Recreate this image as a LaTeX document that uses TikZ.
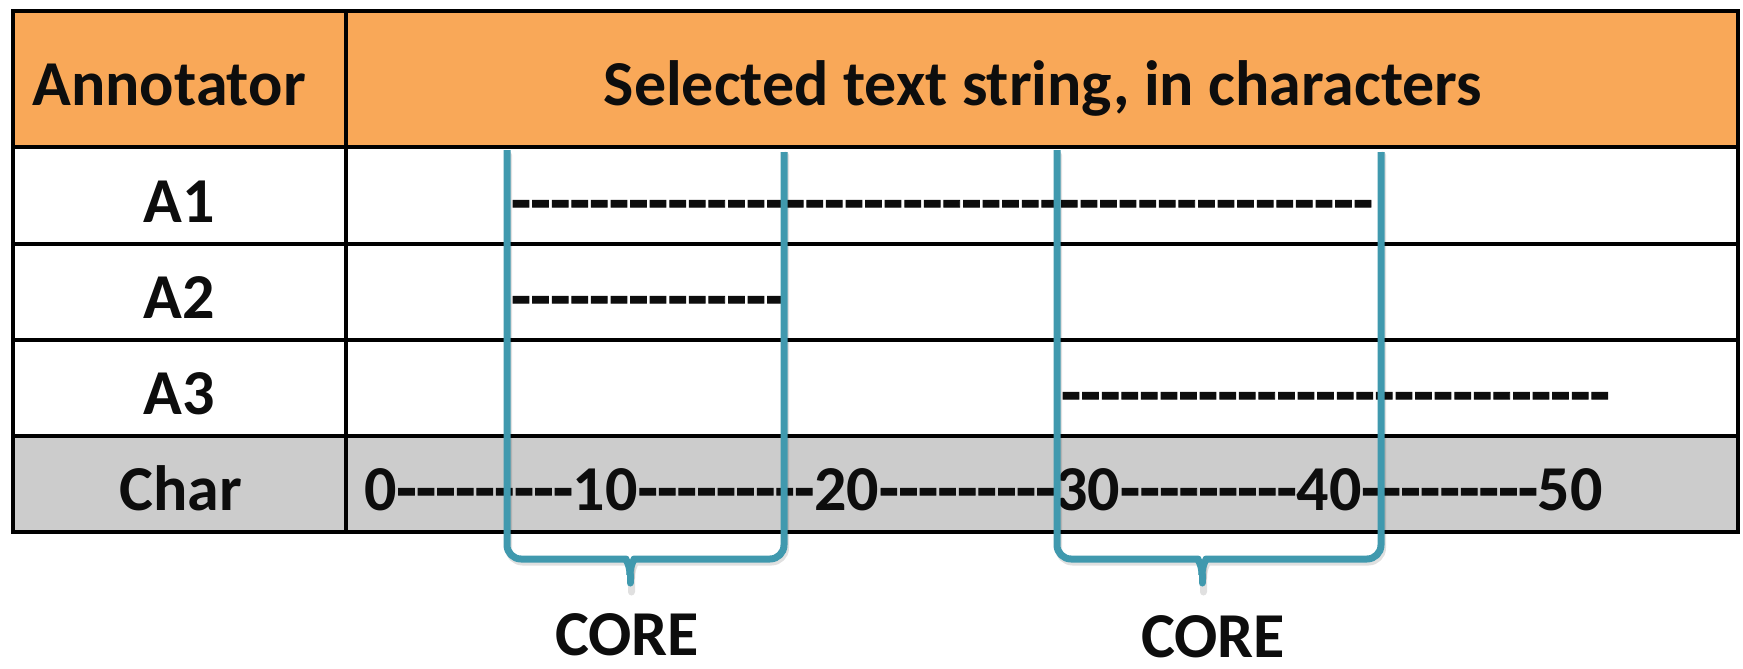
\documentclass[tikz,border=0pt]{standalone}
\usepackage{fontspec}
\setmainfont{Carlito}[Ligatures=TeXOff]
\newfontfamily\hyfont{Carlito}[Ligatures=TeXOff, UprightFeatures={FakeBold=1.5}, BoldFeatures={FakeBold=1.5}]
\newcommand{\hys}[1]{{\hyfont\bfseries #1}}
\definecolor{hdr}{RGB}{249,168,88}
\definecolor{charrow}{RGB}{204,204,204}
\definecolor{coreblue}{RGB}{64,153,174}
\tikzset{
  lbl/.style={inner sep=0pt, font=\fontsize{64}{64}\selectfont\bfseries, text=black!95},
  grid/.style={line width=3.5pt, black},
  core/.style={line width=7pt, coreblue, line cap=round, line join=round},
  coreshadow/.style={line width=7pt, black, opacity=0.12, line cap=round, line join=round}
}
\begin{document}
\begin{tikzpicture}[x=1pt,y=-1pt]
\useasboundingbox (0,0) rectangle (1743,669);
% fills
\fill[hdr] (13,11) rectangle (1738,147);
\fill[white] (13,147) rectangle (1738,436);
\fill[charrow] (13,436) rectangle (1738,532);
% grid
\draw[grid] (13,11) rectangle (1738,532);
\draw[grid] (346,11) -- (346,532);
\foreach \yy in {147,244,340,436} \draw[grid] (13,\yy) -- (1738,\yy);
% texts
\node[lbl, anchor=base] (hann) at (169,105) {Annotator};
\node[lbl, anchor=base] (hsel) at (1043,105) {Selected text string, in characters};
\node[lbl, anchor=base] (a1) at (179,222) {A1};
\node[lbl, anchor=base] (a2) at (179,318) {A2};
\node[lbl, anchor=base] (a3) at (179,414) {A3};
\node[lbl, anchor=base] (ch) at (181,510) {Char};
\node[lbl, anchor=base west] (d1) at (511,222) {\hys{--------------------------------------------}};
\node[lbl, anchor=base west] (d2) at (511,318) {\hys{--------------}};
\node[lbl, anchor=base west] (d3) at (1061,414) {\hys{----------------------------}};
\node[lbl, anchor=base west] (scale) at (364,510) {0\hys{---------}10\hys{---------}20\hys{---------}30\hys{---------}40\hys{---------}50};
\node[lbl, anchor=base] (core1) at (627,655) {CORE};
\node[lbl, anchor=base] (core2) at (1213,657) {CORE};
% brackets
\foreach \L/\R/\T in {507/784/630, 1057/1381/1202}{
  \begin{scope}[shift={(1.5,3)}]
  \draw[coreshadow, rounded corners=14] (\L,152) -- (\L,559) -- (\T-18,559) .. controls (\T-5,559) and (\T,564) .. (\T,575) -- (\T,583);
  \draw[coreshadow, rounded corners=14] (\R,152) -- (\R,559) -- (\T+18,559) .. controls (\T+5,559) and (\T,564) .. (\T,575);
  \end{scope}
  \draw[core, line cap=butt, rounded corners=14] (\L,150) -- (\L,559) -- (\T-18,559) .. controls (\T-5,559) and (\T,564) .. (\T,575);
  \draw[core, line cap=butt, rounded corners=14] (\R,152) -- (\R,559) -- (\T+18,559) .. controls (\T+5,559) and (\T,564) .. (\T,575);
  \draw[core] (\T,575) -- (\T,583);
}
\end{tikzpicture}
\end{document}
